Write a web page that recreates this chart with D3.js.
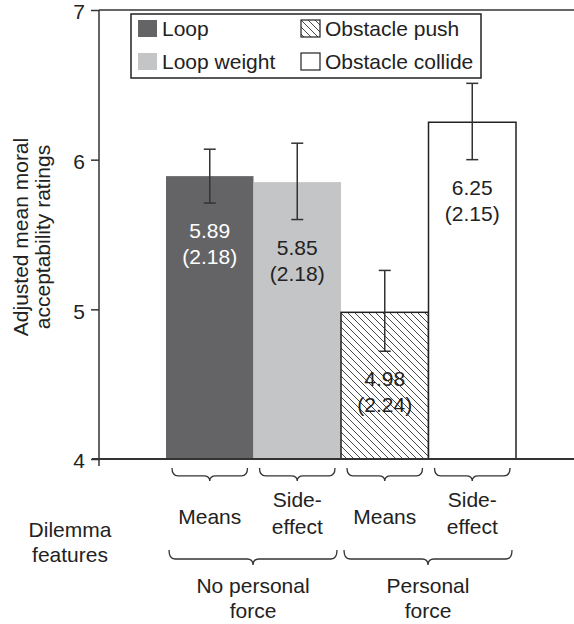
<!DOCTYPE html>
<html>
<head>
<meta charset="utf-8">
<script src="https://cdnjs.cloudflare.com/ajax/libs/d3/7.8.5/d3.min.js"></script>
<style>
  body { margin: 0; background: #fff; }
  text { font-family: "Liberation Sans", Arial, Helvetica, sans-serif; fill: #222; }
</style>
</head>
<body>
<div class="graphic"></div>
<script>
// values
var conditions = ["Loop", "Loop weight", "Obstacle push", "Obstacle collide"];
var means = [5.89, 5.85, 4.98, 6.25];
var sds = [2.18, 2.18, 2.24, 2.15];
var errLow = [5.71, 5.60, 4.72, 6.00];
var errHigh = [6.07, 6.11, 5.26, 6.51];
var intention = [["Means"], ["Side-", "effect"], ["Means"], ["Side-", "effect"]];
var forceGroups = [["No personal", "force"], ["Personal", "force"]];
var yTicks = [4, 5, 6, 7];

var width = 574, height = 624;
var fontSize = "21px";

var svg = d3.select(".graphic")
  .append("svg")
  .attr("width", width)
  .attr("height", height);

var defs = svg.append("defs");
var hatch = defs.append("pattern")
  .attr("id", "hatch")
  .attr("patternUnits", "userSpaceOnUse")
  .attr("width", 7)
  .attr("height", 7);
hatch.append("rect").attr("width", 7).attr("height", 7).attr("fill", "#fff");
hatch.append("path")
  .attr("d", "M0,0 L7,7 M-1,6 L1,8 M6,-1 L8,1")
  .attr("stroke", "#333")
  .attr("stroke-width", 0.9);

var fills = ["#646466", "#c4c5c7", "url(#hatch)", "#fff"];
var strokes = ["none", "none", "#222", "#222"];
var labelColors = ["#fff", "#222", "#222", "#222"];

var x = d3.scaleBand().domain(conditions).range([166, 516]).paddingInner(0);
var y = d3.scaleLinear().domain([4, 7]).range([459, 10]);

// top frame line
svg.append("line")
  .attr("x1", 99).attr("x2", width)
  .attr("y1", y(7)).attr("y2", y(7))
  .attr("stroke", "#333").attr("stroke-width", 1.5);

// bars
svg.selectAll(".bar")
  .data(conditions)
  .enter()
  .append("rect")
  .attr("class", "bar")
  .attr("x", (d) => x(d))
  .attr("width", x.bandwidth())
  .attr("y", (d, i) => y(means[i]))
  .attr("height", (d, i) => y(4) - y(means[i]))
  .attr("fill", (d, i) => fills[i])
  .attr("stroke", (d, i) => strokes[i])
  .attr("stroke-width", 1.5);

// y axis
var yAxis = svg.append("g")
  .attr("transform", "translate(99,0)")
  .call(d3.axisLeft(y).tickValues(yTicks).tickFormat(d3.format("d")).tickSize(8).tickPadding(6));
yAxis.select(".domain").remove();
yAxis.selectAll(".tick line").attr("stroke", "#333").attr("stroke-width", 1.5);
yAxis.selectAll(".tick text")
  .style("font-size", fontSize)
  .attr("fill", "#222")
  .attr("dy", "0.42em");

svg.append("line")
  .attr("x1", 99).attr("x2", 99)
  .attr("y1", y(7)).attr("y2", y(4) + 7)
  .attr("stroke", "#333").attr("stroke-width", 1.5);

// x axis baseline
svg.append("line")
  .attr("x1", 92).attr("x2", width)
  .attr("y1", y(4)).attr("y2", y(4))
  .attr("stroke", "#333").attr("stroke-width", 2);

// error bars
var errG = svg.selectAll(".err")
  .data(conditions)
  .enter()
  .append("g")
  .attr("class", "err")
  .attr("stroke", "#333")
  .attr("stroke-width", 1.5);

errG.append("line")
  .attr("x1", (d) => x(d) + x.bandwidth() / 2)
  .attr("x2", (d) => x(d) + x.bandwidth() / 2)
  .attr("y1", (d, i) => y(errHigh[i]))
  .attr("y2", (d, i) => y(errLow[i]));
[errHigh, errLow].forEach((vals) => {
  errG.append("line")
    .attr("x1", (d) => x(d) + x.bandwidth() / 2 - 6)
    .attr("x2", (d) => x(d) + x.bandwidth() / 2 + 6)
    .attr("y1", (d, i) => y(vals[i]))
    .attr("y2", (d, i) => y(vals[i]));
});

// value labels
var lab = svg.selectAll(".vlab")
  .data(conditions)
  .enter()
  .append("text")
  .attr("class", "vlab")
  .attr("text-anchor", "middle")
  .style("font-size", fontSize)
  .style("fill", (d, i) => labelColors[i]);
lab.append("tspan")
  .attr("x", (d) => x(d) + x.bandwidth() / 2)
  .attr("y", (d, i) => y(errLow[i]) + 35)
  .text((d, i) => means[i].toFixed(2));
lab.append("tspan")
  .attr("x", (d) => x(d) + x.bandwidth() / 2)
  .attr("dy", 26)
  .text((d, i) => "(" + sds[i].toFixed(2) + ")");

// legend
var legend = svg.append("g");
legend.append("rect")
  .attr("x", 131).attr("y", 14)
  .attr("width", 350).attr("height", 64)
  .attr("fill", "#fff").attr("stroke", "#222").attr("stroke-width", 1.5);

var legPos = [[138, 20], [138, 53], [301, 20], [301, 53]];
var leg = legend.selectAll(".leg")
  .data(conditions)
  .enter()
  .append("g")
  .attr("class", "leg")
  .attr("transform", (d, i) => `translate(${legPos[i][0]},${legPos[i][1]})`);
leg.append("rect")
  .attr("width", 19).attr("height", 17)
  .attr("fill", (d, i) => fills[i])
  .attr("stroke", (d, i) => strokes[i])
  .attr("stroke-width", 1.2);
leg.append("text")
  .attr("x", 24).attr("y", 16)
  .style("font-size", fontSize)
  .text((d) => d);

// y axis title
var yTitle = svg.append("text")
  .attr("transform", "translate(0,237) rotate(-90)")
  .attr("text-anchor", "middle")
  .style("font-size", fontSize);
yTitle.append("tspan").attr("x", 0).attr("y", 28).text("Adjusted mean moral");
yTitle.append("tspan").attr("x", 0).attr("y", 50).text("acceptability ratings");

// braces
var brace = (x1, x2, y0, h) => {
  var xm = (x1 + x2) / 2, ym = y0 + h * 0.6, r = 6;
  return `M${x1},${y0} Q${x1},${ym} ${x1 + r},${ym} L${xm - r},${ym} Q${xm},${ym} ${xm},${y0 + h}` +
    ` Q${xm},${ym} ${xm + r},${ym} L${x2 - r},${ym} Q${x2},${ym} ${x2},${y0}`;
};

svg.selectAll(".sbrace")
  .data(conditions)
  .enter()
  .append("path")
  .attr("class", "sbrace")
  .attr("d", (d) => brace(x(d) + 6, x(d) + x.bandwidth() - 6, 468, 13))
  .attr("fill", "none").attr("stroke", "#333").attr("stroke-width", 1.3);

// intention labels
var intLab = svg.selectAll(".ilab")
  .data(intention)
  .enter()
  .append("text")
  .attr("class", "ilab")
  .attr("text-anchor", "middle")
  .style("font-size", fontSize);
intLab.each(function (lines, i) {
  var cx = x(conditions[i]) + x.bandwidth() / 2;
  var y0 = lines.length === 1 ? 524 : 507;
  lines.forEach((t, k) => {
    d3.select(this).append("tspan").attr("x", cx).attr("y", y0 + k * 27).text(t);
  });
});

// force groups
forceGroups.forEach((lines, g) => {
  var x1 = x(conditions[g * 2]) + 3;
  var x2 = x(conditions[g * 2 + 1]) + x.bandwidth() - 4;
  svg.append("path")
    .attr("d", brace(x1, x2, 550, 15))
    .attr("fill", "none").attr("stroke", "#333").attr("stroke-width", 1.3);
  var t = svg.append("text").attr("text-anchor", "middle").style("font-size", fontSize);
  lines.forEach((s, k) => {
    t.append("tspan").attr("x", (x1 + x2) / 2).attr("y", 593 + k * 25).text(s);
  });
});

var dl = svg.append("text").attr("text-anchor", "middle").style("font-size", fontSize);
dl.append("tspan").attr("x", 70).attr("y", 537).text("Dilemma");
dl.append("tspan").attr("x", 70).attr("y", 562).text("features");
</script>
</body>
</html>
